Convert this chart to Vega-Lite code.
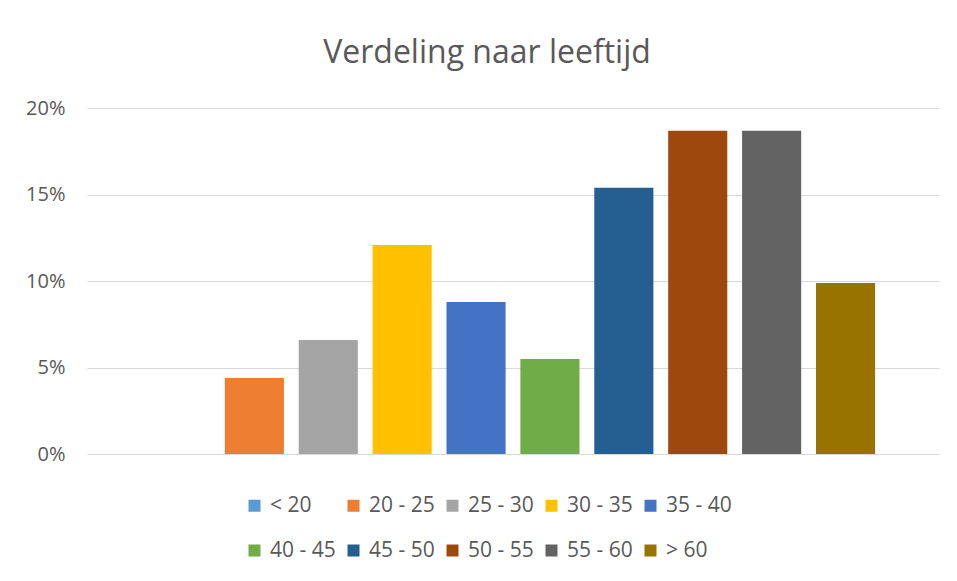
{
  "$schema": "https://vega.github.io/schema/vega-lite/v6.json",
  "width": 852,
  "height": 346,
  "autosize": {"type": "none"},
  "padding": {"left": 87, "top": 108, "right": 18, "bottom": 127},
  "background": "white",
  "title": {
    "text": "Verdeling naar leeftijd",
    "fontSize": 32,
    "font": "Open Sans",
    "fontWeight": "normal",
    "color": "#595959",
    "anchor": "middle",
    "dx": -26,
    "offset": 28
  },
  "data": {
    "values": [
      {"leeftijd": "< 20", "aandeel": 0},
      {"leeftijd": "20 - 25", "aandeel": 0.04396},
      {"leeftijd": "25 - 30", "aandeel": 0.06593},
      {"leeftijd": "30 - 35", "aandeel": 0.12088},
      {"leeftijd": "35 - 40", "aandeel": 0.08791},
      {"leeftijd": "40 - 45", "aandeel": 0.05495},
      {"leeftijd": "45 - 50", "aandeel": 0.15385},
      {"leeftijd": "50 - 55", "aandeel": 0.18681},
      {"leeftijd": "55 - 60", "aandeel": 0.18681},
      {"leeftijd": "> 60", "aandeel": 0.0989}
    ]
  },
  "mark": {"type": "bar"},
  "encoding": {
    "x": {
      "field": "leeftijd",
      "type": "nominal",
      "sort": null,
      "axis": null,
      "scale": {"paddingInner": 0.2, "paddingOuter": 0.865}
    },
    "y": {
      "field": "aandeel",
      "type": "quantitative",
      "scale": {"domain": [0, 0.2]},
      "axis": {
        "title": null,
        "format": ".0%",
        "values": [0, 0.05, 0.1, 0.15, 0.2],
        "domain": false,
        "ticks": false,
        "grid": true,
        "gridColor": "#D9D9D9",
        "gridWidth": 1,
        "labelFont": "Open Sans",
        "labelFontSize": 20,
        "labelColor": "#595959",
        "labelPadding": 22
      }
    },
    "color": {
      "field": "leeftijd",
      "type": "nominal",
      "sort": null,
      "scale": {
        "domain": ["< 20", "20 - 25", "25 - 30", "30 - 35", "35 - 40", "40 - 45", "45 - 50", "50 - 55", "55 - 60", "> 60"],
        "range": ["#5B9BD5", "#ED7D31", "#A5A5A5", "#FFC000", "#4472C4", "#70AD47", "#255E91", "#9E480E", "#636363", "#997300"]
      },
      "legend": {
        "title": null,
        "orient": "none",
        "legendX": 157,
        "legendY": 387,
        "direction": "horizontal",
        "columns": 5,
        "symbolType": "square",
        "symbolSize": 144,
        "symbolStrokeWidth": 0,
        "labelFont": "Open Sans",
        "labelFontSize": 21,
        "labelColor": "#595959",
        "labelOffset": 5,
        "columnPadding": 7,
        "rowPadding": 23
      }
    }
  },
  "config": {
    "view": {"stroke": null}
  }
}
